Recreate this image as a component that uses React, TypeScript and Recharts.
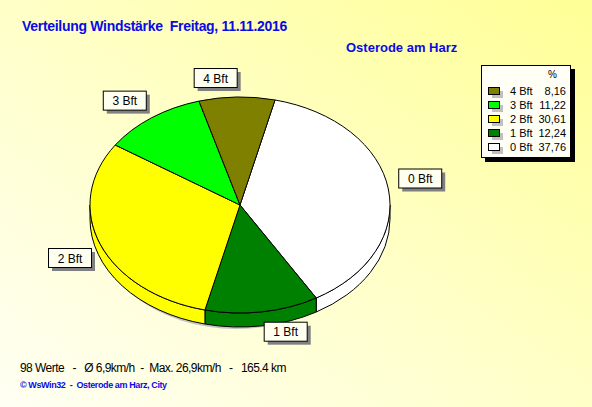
import { Pie, PieChart } from "recharts";

const categories = ["0 Bft", "1 Bft", "2 Bft", "3 Bft", "4 Bft"];
const percents = [37.76, 12.24, 30.61, 11.22, 8.16];
const percentLabels = ["37,76", "12,24", "30,61", "11,22", "8,16"];
const sliceColors = ["#FFFFFF", "#008000", "#FFFF00", "#00FF00", "#808000"];

const title = "Verteilung Windstärke  Freitag, 11.11.2016";
const station = "Osterode am Harz";
const summary = "98 Werte   -   Ø 6,9km/h  -  Max. 26,9km/h   -   165.4 km";
const credit = "© WsWin32  -  Osterode am Harz, City";

const W = 592;
const H = 407;
const CX = 240;
const CY = 205;
const R = 150;
const TILT = 0.72; // vertical squash of the pie disc
const DEPTH = 14; // thickness of the disc edge
const FONT = '"Liberation Sans", Arial, sans-serif';
const BLUE = "#0A0AE6";

const data = categories.map((name, i) => ({
  name,
  value: percents[i],
  fill: sliceColors[i],
}));

const RAD = Math.PI / 180;
const pt = (cx: number, cy: number, r: number, a: number, dy = 0) => ({
  x: cx + r * Math.cos(-a * RAD),
  y: cy + r * TILT * Math.sin(-a * RAD) + dy,
});

// top face of a slice, drawn as an elliptical sector
function TopSector(props: any) {
  const { cx, cy, outerRadius: r, startAngle: a1, endAngle: a2, fill } = props;
  const p1 = pt(cx, cy, r, a1);
  const p2 = pt(cx, cy, r, a2);
  const large = Math.abs(a1 - a2) > 180 ? 1 : 0;
  const sweep = a2 < a1 ? 1 : 0;
  const d = `M${cx},${cy} L${p1.x},${p1.y} A${r},${r * TILT} 0 ${large} ${sweep} ${p2.x},${p2.y} Z`;
  return <path d={d} fill={fill} stroke="#000" strokeWidth={1} />;
}

// visible front wall of a slice (lower half of the ellipse)
function WallSector(props: any) {
  const { cx, cy, outerRadius: r, startAngle, endAngle, fill } = props;
  const hiA = Math.max(startAngle, endAngle);
  const loA = Math.min(startAngle, endAngle);
  const hi = Math.min(hiA, 0);
  const lo = Math.max(loA, -180);
  if (hi <= lo) return <g />;
  const t1 = pt(cx, cy, r, hi);
  const t2 = pt(cx, cy, r, lo);
  const b1 = pt(cx, cy, r, hi, DEPTH);
  const b2 = pt(cx, cy, r, lo, DEPTH);
  const ry = r * TILT;
  const d =
    `M${t1.x},${t1.y} A${r},${ry} 0 0 1 ${t2.x},${t2.y} ` +
    `L${b2.x},${b2.y} A${r},${ry} 0 0 0 ${b1.x},${b1.y} Z`;
  return <path d={d} fill={fill} stroke="#000" strokeWidth={1} />;
}

// soft grey drop shadow under the disc
function ShadowShape(props: any) {
  const { cx, cy, outerRadius: r } = props;
  return (
    <ellipse cx={cx - 4} cy={cy + 8} rx={r - 4} ry={r * TILT + 8} fill="#C4C4C4" stroke="none" />
  );
}

const BOX_W = 43;
const BOX_H = 19;

function SliceLabel(props: any) {
  const { cx, cy, outerRadius: r, midAngle, name } = props;
  const c = Math.cos(-midAngle * RAD);
  const s = Math.sin(-midAngle * RAD);
  const ax = cx + (r + 10) * c;
  const ay = cy + (r * TILT + 10) * s;
  const x = c >= 0 ? ax : ax - BOX_W;
  const y = s < 0 ? ay - BOX_H : ay;
  return (
    <g>
      <rect x={x + 4} y={y + 4} width={BOX_W} height={BOX_H} fill="#808080" />
      <rect x={x + 0.5} y={y + 0.5} width={BOX_W} height={BOX_H} fill="#FFFFF0" stroke="#000" />
      <text
        x={x + BOX_W / 2 + 0.5}
        y={y + BOX_H / 2 + 5}
        textAnchor="middle"
        fontFamily={FONT}
        fontSize={12}
        fill="#000"
      >
        {name}
      </text>
    </g>
  );
}

function LegendBox() {
  const rows = categories.map((c, i) => i).reverse();
  return (
    <div style={{ position: "absolute", left: 481, top: 65, width: 90, height: 93 }}>
      <div
        style={{ position: "absolute", left: 4, top: 4, width: 90, height: 93, background: "#000" }}
      />
      <div
        style={{
          position: "absolute",
          left: 0,
          top: 0,
          width: 88,
          height: 91,
          background: "#FFFFF6",
          border: "1px solid #000",
          fontFamily: FONT,
          fontSize: 11,
          color: "#000",
        }}
      >
        <div style={{ position: "absolute", left: 66, top: 3, fontSize: 10 }}>%</div>
        {rows.map((i, k) => (
          <div key={categories[i]} style={{ position: "absolute", left: 0, top: 19 + k * 14, width: 88, height: 14 }}>
            <div style={{ position: "absolute", left: 10, top: 6, width: 11, height: 7, background: "#C0C0C0" }} />
            <div
              style={{
                position: "absolute",
                left: 6,
                top: 2,
                width: 10,
                height: 6,
                background: sliceColors[i],
                border: "1px solid #000",
              }}
            />
            <div style={{ position: "absolute", left: 28, top: -1, lineHeight: "14px" }}>{categories[i]}</div>
            <div style={{ position: "absolute", right: 4, top: -1, lineHeight: "14px" }}>{percentLabels[i]}</div>
          </div>
        ))}
      </div>
    </div>
  );
}

export default function App() {
  return (
    <div
      style={{
        position: "relative",
        width: W,
        height: H,
        overflow: "hidden",
        background: "linear-gradient(to bottom left, #FFFF96 0%, #FFFFC8 50%, #FFFFF4 100%)",
        fontFamily: FONT,
      }}
    >
      <style>{"body{margin:0}"}</style>
      <div
        style={{
          position: "absolute",
          left: 22,
          top: 18,
          color: BLUE,
          fontWeight: "bold",
          fontSize: 14,
          letterSpacing: -0.3,
          whiteSpace: "pre",
        }}
      >
        {title}
      </div>
      <div
        style={{ position: "absolute", left: 346, top: 40, color: BLUE, fontWeight: "bold", fontSize: 13 }}
      >
        {station}
      </div>

      <PieChart width={W} height={H} margin={{ top: 0, right: 0, bottom: 0, left: 0 }} style={{ position: "absolute", left: 0, top: 0 }}>
        <Pie
          data={[{ name: "shadow", value: 1 }]}
          dataKey="value"
          cx={CX}
          cy={CY}
          outerRadius={R}
          startAngle={90}
          endAngle={-270}
          shape={ShadowShape}
          isAnimationActive={false}
        />
        <Pie
          data={data}
          dataKey="value"
          nameKey="name"
          cx={CX}
          cy={CY}
          outerRadius={R}
          startAngle={76.5}
          endAngle={-283.5}
          shape={WallSector}
          isAnimationActive={false}
        />
        <Pie
          data={data}
          dataKey="value"
          nameKey="name"
          cx={CX}
          cy={CY}
          outerRadius={R}
          startAngle={76.5}
          endAngle={-283.5}
          shape={TopSector}
          label={SliceLabel}
          labelLine={false}
          isAnimationActive={false}
        />
      </PieChart>

      <LegendBox />

      <div
        style={{
          position: "absolute",
          left: 20,
          top: 361,
          fontSize: 12,
          letterSpacing: -0.55,
          color: "#000",
          whiteSpace: "pre",
        }}
      >
        {summary}
      </div>
      <div
        style={{
          position: "absolute",
          left: 20,
          top: 380,
          fontSize: 9,
          fontWeight: "bold",
          letterSpacing: -0.4,
          color: BLUE,
          whiteSpace: "pre",
        }}
      >
        {credit}
      </div>
    </div>
  );
}
